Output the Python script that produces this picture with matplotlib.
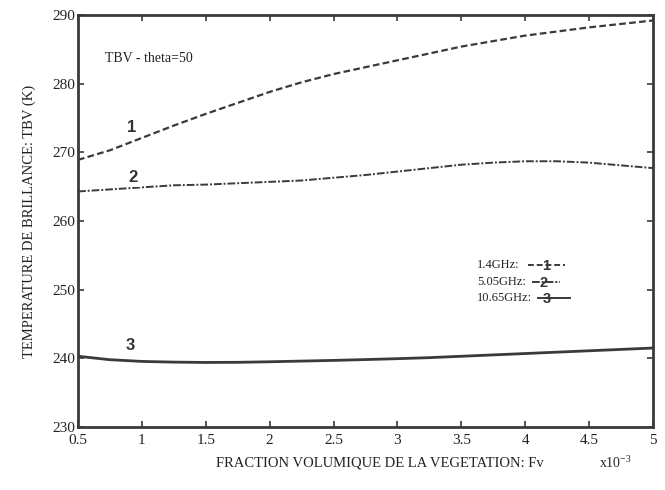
import numpy as np
import matplotlib
matplotlib.use("Agg")
import matplotlib.pyplot as plt
from matplotlib.lines import Line2D

# volume fraction of vegetation (x1e-3)
fv = [0.5, 0.75, 1.0, 1.25, 1.5, 1.75, 2.0, 2.25, 2.5, 2.75,
      3.0, 3.25, 3.5, 3.75, 4.0, 4.25, 4.5, 4.75, 5.0]
# TBV (K) at theta=50 for each frequency
tbv_1p4 = [268.9, 270.3, 272.1, 273.9, 275.6, 277.2, 278.8, 280.2, 281.4, 282.4,
           283.4, 284.4, 285.4, 286.2, 287.0, 287.6, 288.2, 288.7, 289.2]
tbv_5p05 = [264.3, 264.6, 264.9, 265.2, 265.3, 265.5, 265.7, 265.9, 266.3, 266.7,
            267.2, 267.7, 268.2, 268.5, 268.7, 268.7, 268.5, 268.1, 267.7]
tbv_10p65 = [240.3, 239.8, 239.55, 239.45, 239.4, 239.42, 239.5, 239.6, 239.7, 239.82,
             239.95, 240.1, 240.3, 240.5, 240.7, 240.9, 241.1, 241.3, 241.5]

INK = "#3a3a3a"
plt.rcParams["font.family"] = "Liberation Serif"
plt.rcParams["mathtext.fontset"] = "custom"
plt.rcParams["mathtext.rm"] = "Liberation Serif"

DASH = (0, (3, 1.5))
DASHDOT = (0, (4, 1, 1, 1))

fig = plt.figure(figsize=(6.65, 4.9), dpi=100)
ax = fig.add_axes([78/665, 1-427/490, 575/665, 412/490])

ax.plot(fv, tbv_1p4, color=INK, lw=1.6, ls=DASH)
ax.plot(fv, tbv_5p05, color=INK, lw=1.4, ls=DASHDOT)
ax.plot(fv, tbv_10p65, color=INK, lw=2.0, ls="-")

ax.set_xlim(0.5, 5)
ax.set_ylim(230, 290)
ax.set_xticks(np.arange(0.5, 5.01, 0.5))
ax.set_xticklabels(["0.5", "1", "1.5", "2", "2.5", "3", "3.5", "4", "4.5", "5"])
ax.set_yticks(np.arange(230, 291, 10))
ax.tick_params(direction="in", top=True, right=True, length=4, width=1.2,
               color=INK, labelsize=11, labelcolor="#222")
ax.tick_params(axis="x", pad=5)
ax.tick_params(axis="y", pad=2)
for s in ax.spines.values():
    s.set_linewidth(2.0); s.set_color(INK)

# curve numbers, masking the line underneath
bold = dict(family="Liberation Sans", fontweight="bold", fontsize=12, color="#333",
            ha="center", va="center",
            bbox=dict(boxstyle="square,pad=0.15", fc="white", ec="none"))
ax.text(0.92, 273.6, "1", **bold)
ax.text(0.93, 266.4, "2", **bold)
ax.text(0.91, 241.8, "3", **bold)

ax.text(0.71, 283.6, "TBV - theta=50", fontsize=10, color="#222", va="center")

# frequency key
tf = ax.transAxes
def fx(px): return (px-78)/575
def fy(py): return (427-py)/412
key = [("1.4GHz:", 265, (528, 565), DASH, "1", 546),
       ("5.05GHz:", 282, (532, 560), DASHDOT, "2", 544),
       ("10.65GHz:", 298, (538, 570), "-", "3", 547)]
for txt, py, (x0, x1), ls, num, nx in key:
    ax.text(fx(477), fy(py), txt, transform=tf, fontsize=9, color="#222", va="center")
    ax.add_line(Line2D([fx(x0), fx(x1)], [fy(py), fy(py)], transform=tf,
                       color=INK, lw=1.4, ls=ls))
    ax.text(fx(nx), fy(py+1), num, transform=tf, family="Liberation Sans",
            fontweight="bold", fontsize=10.5, color="#333", ha="center", va="center")

ax.set_ylabel("TEMPERATURE DE BRILLANCE: TBV (K)", fontsize=10.5, color="#222", labelpad=12)
fig.text(380/665, 1-463/490, "FRACTION VOLUMIQUE DE LA VEGETATION: Fv",
         fontsize=10.5, color="#222", ha="center", va="center")
fig.text(615/665, 1-463/490, r"x10$^{\mathregular{-3}}$", fontsize=10, color="#222",
         ha="center", va="center")

fig.savefig("out.png", dpi=100)
